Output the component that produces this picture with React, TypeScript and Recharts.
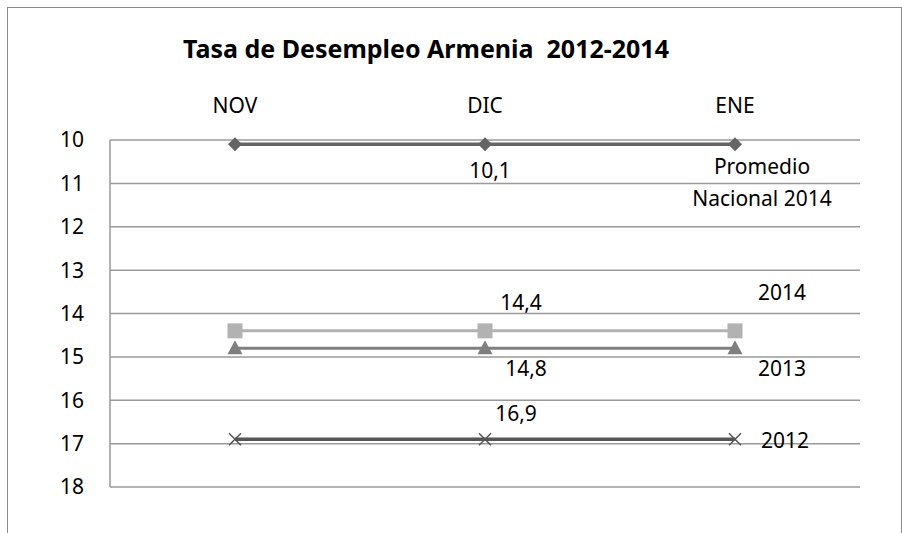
import React from "react";
import { LineChart, Line, XAxis, YAxis, CartesianGrid, LabelList } from "recharts";

const months = ["NOV", "DIC", "ENE"];
const promedio = [10.1, 10.1, 10.1];
const y2014 = [14.4, 14.4, 14.4];
const y2013 = [14.8, 14.8, 14.8];
const y2012 = [16.9, 16.9, 16.9];
const yTicks = [10, 11, 12, 13, 14, 15, 16, 17, 18];

const data = months.map((m, i) => ({
  m,
  promedio: promedio[i],
  y2014: y2014[i],
  y2013: y2013[i],
  y2012: y2012[i],
}));

const FONT = "'Noto Sans', sans-serif";
const GRID = "#9a9a9a";
const FS = 21;

const fmt = (v: number) => String(v).replace(".", ",");

// label placement per series: value at DIC, series name at ENE
type LabelCfg = { vdx: number; vdy: number; ndx: number; ndy: number; name: string[] };
const labelCfg: Record<string, LabelCfg> = {
  promedio: { vdx: 5, vdy: 26, ndx: 27, ndy: 22, name: ["Promedio", "Nacional 2014"] },
  y2014: { vdx: 36, vdy: -29, ndx: 47, ndy: -39, name: ["2014"] },
  y2013: { vdx: 41, vdy: 20, ndx: 47, ndy: 20, name: ["2013"] },
  y2012: { vdx: 31, vdy: -26, ndx: 50, ndy: 1, name: ["2012"] },
};

function makeLabel(key: string) {
  const c = labelCfg[key];
  return (props: any) => {
    const { x, y, index, value } = props;
    const style = { fontFamily: FONT, fontSize: FS, fill: "#000" };
    if (index === 1) {
      return (
        <text x={x + c.vdx} y={y + c.vdy} textAnchor="middle" dominantBaseline="central" style={style}>
          {fmt(value)}
        </text>
      );
    }
    if (index === 2) {
      return (
        <g>
          {c.name.map((s, k) => (
            <text key={k} x={x + c.ndx} y={y + c.ndy + k * 32} textAnchor="middle" dominantBaseline="central" style={style}>
              {s}
            </text>
          ))}
        </g>
      );
    }
    return null;
  };
}

const Diamond = (p: any) => (
  <path d={`M${p.cx - 7},${p.cy} L${p.cx},${p.cy - 7} L${p.cx + 7},${p.cy} L${p.cx},${p.cy + 7} Z`} fill="#646464" />
);
const Square = (p: any) => <rect x={p.cx - 7.5} y={p.cy - 7.5} width={15} height={15} fill="#b2b2b2" />;
const Triangle = (p: any) => (
  <path d={`M${p.cx},${p.cy - 8} L${p.cx + 7.5},${p.cy + 6} L${p.cx - 7.5},${p.cy + 6} Z`} fill="#7f7f7f" />
);
const Cross = (p: any) => (
  <path
    d={`M${p.cx - 6},${p.cy - 6} L${p.cx + 6},${p.cy + 6} M${p.cx + 6},${p.cy - 6} L${p.cx - 6},${p.cy + 6}`}
    stroke="#555"
    strokeWidth={1.5}
  />
);

export default function App() {
  return (
    <div style={{ position: "absolute", left: 0, top: 0, width: 902, height: 533, overflow: "hidden", background: "#fff" }}>
      <div
        style={{
          position: "absolute",
          left: 7,
          top: 7,
          width: 893,
          height: 560,
          border: "1.5px solid #8a8a8a",
        }}
      />
      <div
        style={{
          position: "absolute",
          left: 0,
          width: 852,
          top: 31,
          textAlign: "center",
          fontFamily: FONT,
          fontWeight: "bold",
          fontSize: 25,
          lineHeight: "34px",
          color: "#000",
          whiteSpace: "pre",
        }}
      >
        {"Tasa de Desempleo Armenia  2012-2014"}
      </div>
      <div style={{ position: "absolute", left: 0, top: 0 }}>
        <LineChart width={902} height={533} data={data} margin={{ top: 0, right: 42, bottom: 46, left: 0 }}>
          <CartesianGrid vertical={false} stroke={GRID} strokeWidth={1.5} />
          <XAxis
            dataKey="m"
            orientation="top"
            height={140}
            padding={{ left: 125, right: 125 }}
            axisLine={false}
            tickLine={false}
            tickSize={0}
            tickMargin={27}
            tick={{ fontFamily: FONT, fontSize: FS, fill: "#000" }}
          />
          <YAxis
            reversed
            domain={[10, 18]}
            ticks={yTicks}
            interval={0}
            width={110}
            axisLine={{ stroke: GRID, strokeWidth: 1.5 }}
            tickLine={false}
            tickSize={0}
            tickMargin={26}
            tick={{ fontFamily: FONT, fontSize: FS, fill: "#000" }}
          />
          <Line dataKey="promedio" stroke="#646464" strokeWidth={3.5} dot={<Diamond />} isAnimationActive={false}>
            <LabelList dataKey="promedio" content={makeLabel("promedio")} />
          </Line>
          <Line dataKey="y2014" stroke="#b2b2b2" strokeWidth={3} dot={<Square />} isAnimationActive={false}>
            <LabelList dataKey="y2014" content={makeLabel("y2014")} />
          </Line>
          <Line dataKey="y2013" stroke="#7f7f7f" strokeWidth={3} dot={<Triangle />} isAnimationActive={false}>
            <LabelList dataKey="y2013" content={makeLabel("y2013")} />
          </Line>
          <Line dataKey="y2012" stroke="#555" strokeWidth={3.5} dot={<Cross />} isAnimationActive={false}>
            <LabelList dataKey="y2012" content={makeLabel("y2012")} />
          </Line>
        </LineChart>
      </div>
    </div>
  );
}
